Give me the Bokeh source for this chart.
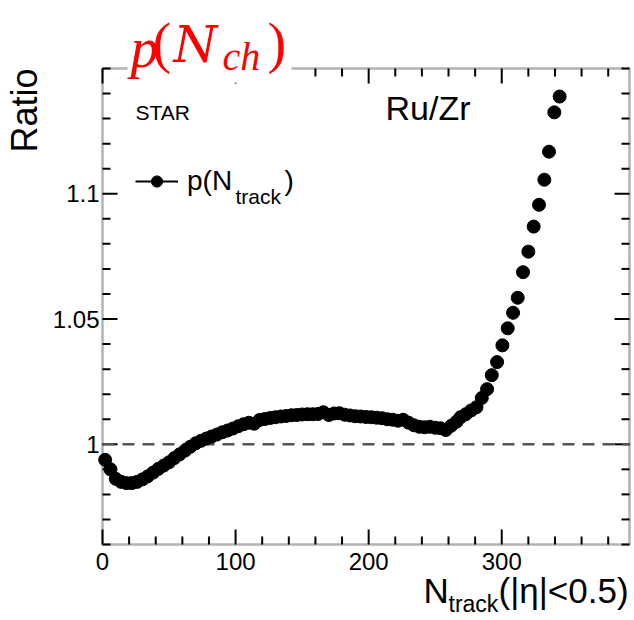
import math
from bokeh.plotting import figure
from bokeh.models import Range1d, Label, Legend, LegendItem, BoxAnnotation
from bokeh.core.properties import value
from bokeh.embed import file_html
from bokeh.resources import INLINE

# ---------------- data ----------------
ntrack = [2, 6, 10, 14, 18, 22, 26, 30, 34, 38,
          42, 46, 50, 54, 58, 62, 66, 70, 74, 78,
          82, 86, 90, 94, 98, 102, 106, 110, 114, 118,
          122, 126, 130, 134, 138, 142, 146, 150, 154, 158,
          162, 166, 170, 174, 178, 182, 186, 190, 194, 198,
          202, 206, 210, 214, 218, 222, 226, 230, 234, 238,
          242, 246, 250, 254, 258, 262, 266, 269, 273, 277,
          281, 285, 289, 292.5, 296.5, 300.5, 304.5, 308.5, 312, 316,
          320, 324, 328, 332, 335.5, 339.5, 343.5]
ratio = [0.9938, 0.9900, 0.9862, 0.9850, 0.9845, 0.9845, 0.9850, 0.9860, 0.9872, 0.9887,
         0.9902, 0.9915, 0.9928, 0.9945, 0.9960, 0.9975, 0.9990, 1.0004, 1.0014, 1.0023,
         1.0031, 1.0039, 1.0048, 1.0055, 1.0063, 1.0072, 1.0080, 1.0086, 1.0082, 1.0097,
         1.0101, 1.0105, 1.0108, 1.0111, 1.0113, 1.0116, 1.0117, 1.0119, 1.0120, 1.0120,
         1.0121, 1.0128, 1.0117, 1.0123, 1.0124, 1.0118, 1.0115, 1.0112, 1.0111, 1.0109,
         1.0108, 1.0106, 1.0104, 1.0100, 1.0098, 1.0094, 1.0098, 1.0086, 1.0076, 1.0070,
         1.0068, 1.0070, 1.0066, 1.0064, 1.0057, 1.0074, 1.0090, 1.0108, 1.0120, 1.0135,
         1.0148, 1.0185, 1.0220, 1.0276, 1.0328, 1.0395, 1.0463, 1.0525, 1.0585, 1.0687,
         1.0769, 1.0869, 1.0956, 1.1056, 1.1168, 1.1325, 1.1388]

x_major_ticks = [0, 100, 200, 300]
x_tick_labels = ["0", "100", "200", "300"]
x_minor_ticks = [20, 40, 60, 80, 120, 140, 160, 180, 220, 240, 260, 280, 320, 340, 360, 380]
y_major_ticks = [1.0, 1.05, 1.1]
y_tick_labels = ["1", "1.05", "1.1"]
y_minor_ticks = [0.96, 0.97, 0.98, 0.99, 1.01, 1.02, 1.03, 1.04, 1.06, 1.07,
                 1.08, 1.09, 1.11, 1.12, 1.13, 1.14, 1.15]
x_lo, x_hi = 0, 396
y_lo, y_hi = 0.96, 1.15
reference_level = 1.0

# ---------------- layout (pixels of the plot box inside the canvas) ----------------
WIDTH, HEIGHT = 634, 620
L, T, R, B = 102, 68, 5, 76
FW, FH = WIDTH - L - R, HEIGHT - T - B
SANS = "Liberation Sans"
SERIF = "Liberation Serif"
MAJ, MIN = 15, 8  # tick lengths in px
BASE_SHIFT = 0.37  # label anchor correction (fraction of font size)


def dx(px):
    return x_lo + (px - L) / FW * (x_hi - x_lo)


def dy(py):
    return y_hi - (py - T) / FH * (y_hi - y_lo)


def lx(n_px):
    return n_px / FW * (x_hi - x_lo)


def ly(n_px):
    return n_px / FH * (y_hi - y_lo)


p = figure(width=WIDTH, height=HEIGHT, output_backend="svg", toolbar_location=None,
           x_range=Range1d(dx(0), dx(WIDTH)), y_range=Range1d(dy(HEIGHT), dy(0)),
           x_axis_type=None, y_axis_type=None,
           min_border=0, min_border_left=0, min_border_right=0,
           min_border_top=0, min_border_bottom=0,
           background_fill_color="white", border_fill_color="white",
           outline_line_color=None)


# ---- axis ticks (inward, on all four sides, ROOT style) ----
def xticks(ticks, length):
    n = len(ticks)
    p.segment(x0=ticks + ticks, y0=[y_lo] * n + [y_hi] * n,
              x1=ticks + ticks, y1=[y_lo + ly(length)] * n + [y_hi - ly(length)] * n,
              line_color="black", line_width=2)


def yticks(ticks, length):
    n = len(ticks)
    p.segment(x0=[x_lo] * n + [x_hi] * n, y0=ticks + ticks,
              x1=[x_lo + lx(length)] * n + [x_hi - lx(length)] * n, y1=ticks + ticks,
              line_color="black", line_width=2)


xticks(x_major_ticks, MAJ)
xticks(x_minor_ticks, MIN)
yticks(y_major_ticks, MAJ)
yticks(y_minor_ticks, MIN)

# tick labels
p.text(x=x_major_ticks, y=[y_lo] * len(x_major_ticks), text=x_tick_labels,
       text_font=value(SANS), text_font_size="24px", text_color="black",
       text_align="center", text_baseline="top", y_offset=8)
p.text(x=[x_lo] * len(y_major_ticks), y=y_major_ticks, text=y_tick_labels,
       text_font=value(SANS), text_font_size="24px", text_color="black",
       text_align="right", text_baseline="middle", x_offset=-3)

# reference line
p.line(x=[x_lo, x_hi], y=[reference_level, reference_level], line_color="#555555",
       line_width=2.5, line_dash="12 8")

# data
scat = p.scatter(ntrack, ratio, size=13, color="black", line_color="black")
leg_line = p.line(x=ntrack[:1], y=ratio[:1], line_color="black", line_width=2)

# frame box
p.add_layout(BoxAnnotation(left=x_lo, right=x_hi, bottom=y_lo, top=y_hi,
                           fill_alpha=0, line_color="black", line_width=2.5))

legend = Legend(items=[LegendItem(label="p(N", renderers=[leg_line, scat])],
                location=(135, HEIGHT - 197), padding=0, margin=0, spacing=0,
                glyph_width=43, glyph_height=28, label_height=28, label_standoff=9,
                label_text_font=SANS, label_text_font_size="28px",
                label_text_color="black", label_text_baseline="alphabetic",
                border_line_color=None, background_fill_alpha=0)
p.add_layout(legend)


def lab(text, px, py, size, font=SANS, style="normal", color="black",
        align="left", angle=0.0, **kw):
    """px, py: wanted position of the text baseline start (canvas pixels)."""
    shift = BASE_SHIFT * size
    qx = px - shift * math.sin(angle)
    qy = py - shift * math.cos(angle)
    lb = Label(x=dx(qx), y=dy(qy), text=text, text_font=font, text_font_style=style,
               text_font_size=f"{size}px", text_color=color, text_align=align,
               text_baseline="alphabetic", angle=angle, **kw)
    p.add_layout(lb)
    return lb


# legend subscript
lab("track", 235, 204, 21)
lab(")", 284, 190, 28)

# texts in the frame
lab("STAR", 135, 120, 21)
lab("Ru/Zr", 385, 120, 34)

# y axis title
lab("Ratio", 37, 68, 36, angle=math.pi / 2, align="right")

# x axis title
lab("N", 423, 603, 35)
lab("track", 448, 612, 23)
lab("(|\u03b7|<0.5)", 498, 603, 35)

# red title with white background covering the frame line
RED = "#ff0000"
lab("p", 127, 63, 56, font=SERIF, style="italic", color=RED,
    background_fill_color="white",
    padding=dict(left=3, right=133, top=14, bottom=4))
lab("(", 152, 63, 56, font=SERIF, color=RED)
lab("N", 173, 63, 50, font="DejaVu Serif", style="italic", color=RED)
lab("ch", 222, 71, 40, font=SERIF, style="italic", color=RED)
lab(")", 267, 63, 56, font=SERIF, color=RED)

open("out.html", "w").write(file_html(p, INLINE))
